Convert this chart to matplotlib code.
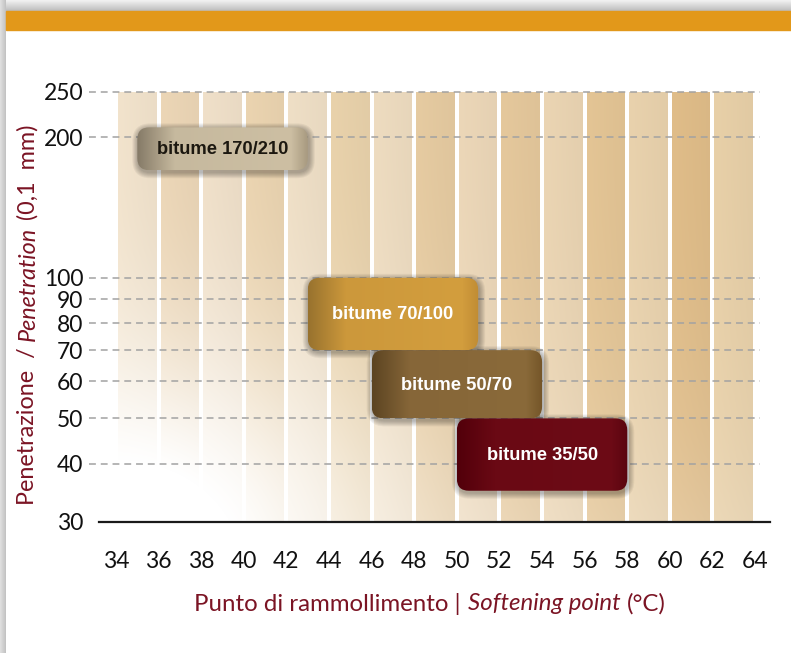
import numpy as np
import matplotlib
matplotlib.use("Agg")
import matplotlib.pyplot as plt
from matplotlib import font_manager as fm
from matplotlib.patches import FancyBboxPatch, Rectangle
from matplotlib.colors import LinearSegmentedColormap, to_rgb
from matplotlib.ticker import NullLocator

# softening point ticks (deg C) and penetration ticks (0.1 mm)
soft_ticks = [34, 36, 38, 40, 42, 44, 46, 48, 50, 52, 54, 56, 58, 60, 62, 64]
pen_ticks = [30, 40, 50, 60, 70, 80, 90, 100, 200, 250]

# bitumen grades: softening point range and penetration range
grades = ["bitume 170/210", "bitume 70/100", "bitume 50/70", "bitume 35/50"]
soft_min = [35, 43, 46, 50]
soft_max = [43, 51, 54, 58]
pen_min = [170, 70, 50, 35]
pen_max = [210, 100, 70, 50]

# styling
stripe_cols = ["#f2e3cc", "#ecd6b6", "#f0e0c9", "#ebd4b0", "#efdfc6", "#e9d2ab",
               "#eedcc0", "#e6cba1", "#ecd7b8", "#e5c89c", "#ebd5b3", "#e4c595",
               "#e9d2ad", "#e0bd89", "#e8d0a8"]
box_grad = [["#857a67", "#c6b99e", "#cdbfa3", "#a89a80"],
            ["#98722e", "#cc983b", "#d39e3e", "#c08c34"],
            ["#5c4422", "#866638", "#8a6a3a", "#745528"],
            ["#52000a", "#6a0914", "#6d0b16", "#5a0510"]]
box_text = ["#1c1810", "white", "white", "white"]
dark_red = "#7b1424"


def pick(cands):
    for c in cands:
        try:
            fm.findfont(fm.FontProperties(family=c), fallback_to_default=False)
            return c
        except ValueError:
            pass
    return "DejaVu Sans"


narrow = pick(["Liberation Sans Narrow", "Lato", "Open Sans"])
bold_font = pick(["Liberation Sans", "Arial"])

W, H = 791, 653
fig = plt.figure(figsize=(W / 100, H / 100), dpi=100)
fig.patch.set_facecolor("white")

# background layer in pixel coords (y down)
bg = fig.add_axes([0, 0, 1, 1])
bg.set_xlim(0, W)
bg.set_ylim(H, 0)
bg.axis("off")
bg.set_zorder(0)

# main chart axes
ax = fig.add_axes([89 / W, 1 - 522 / H, (770 - 89) / W, (522 - 92) / H])
ax.set_yscale("log")
ax.set_xlim(32.73, 64.7)
ax.set_ylim(30, 250)
ax.patch.set_alpha(0)
ax.set_zorder(1)
for s in ax.spines.values():
    s.set_visible(False)


def to_px(x, y):
    d = ax.transData.transform((x, y))
    return d[0], H - d[1]


# page shadow + orange header band
top_sh = np.linspace(0.95, 0.74, 20)[:, None, None] * np.ones((1, 2, 3))
bg.imshow(top_sh, extent=(0, W, 11, 0), aspect="auto", zorder=1)
left_sh = np.linspace(0.88, 0.76, 20)[None, :, None] * np.ones((2, 1, 3))
bg.imshow(left_sh, extent=(0, 6, H, 0), aspect="auto", zorder=1)
bg.add_patch(Rectangle((6, 11), W - 6, 19, color="#e2981a", zorder=2))

# striped background with white fade towards the bottom-left
left, top = to_px(soft_ticks[0], pen_ticks[-1])
right, bot = to_px(soft_ticks[-1], pen_ticks[0])
nx, ny = int(round(right - left)), int(round(bot - top))
xs = left + np.arange(nx) + 0.5
ys = top + np.arange(ny) + 0.5
img = np.ones((ny, nx, 3))
edges = [to_px(t, 30)[0] for t in soft_ticks]
for i, c in enumerate(stripe_cols):
    x0, x1 = edges[i] + 2, edges[i + 1] - 2
    m = (xs >= x0) & (xs < x1)
    t = (xs[m] - x0) / (x1 - x0)
    shade = 1 - 0.03 * t
    img[:, m, :] = np.array(to_rgb(c))[None, None, :] * shade[None, :, None]
u = (xs - left) / (right - left)
v = (bot - ys) / (bot - top)
U, V = np.meshgrid(u, v)
a = 0.95 * np.exp(-((U / 0.38) ** 2 + (V / 0.42) ** 2)) + 0.25 * (1 - V) ** 3 * (1 - 0.3 * U)
a = np.clip(a, 0, 1)[:, :, None]
img = img * (1 - a) + a
bg.imshow(img, extent=(left, left + nx, top + ny, top), aspect="auto",
          interpolation="nearest", zorder=3)

# dashed grid lines and axis line
for p in pen_ticks[1:]:
    ax.plot([32.73, 64.23], [p, p], color="#a2a2a2", lw=1.1,
            ls=(0, (4.5, 3.2)), clip_on=False, zorder=2)
ax.plot([33.2, 64.7], [30, 30], color="#1a1a1a", lw=1.6, clip_on=False, zorder=3)

ax.set_xticks(soft_ticks)
ax.set_xticklabels([str(t) for t in soft_ticks])
ax.set_yticks(pen_ticks)
ax.set_yticklabels([str(t) for t in pen_ticks])
ax.yaxis.set_minor_locator(NullLocator())
ax.tick_params(axis="x", length=0, pad=21, labelsize=16.5, labelcolor="#111111")
ax.tick_params(axis="y", length=0, pad=4, labelsize=16.5, labelcolor="#111111")
for lab in ax.get_xticklabels() + ax.get_yticklabels():
    lab.set_family(narrow)

# overlay for the grade boxes (pixel coords)
ov = fig.add_axes([0, 0, 1, 1])
ov.set_xlim(0, W)
ov.set_ylim(H, 0)
ov.axis("off")
ov.patch.set_alpha(0)
ov.set_zorder(2)

for i, name in enumerate(grades):
    x0, y0 = to_px(soft_min[i], pen_max[i])
    x1, y1 = to_px(soft_max[i], pen_min[i])
    w, h = x1 - x0, y1 - y0
    # soft shadow
    for k in range(1, 7):
        sh = FancyBboxPatch((x0 + 1, y0 + 2), w, h,
                            boxstyle=f"round,pad={k},rounding_size={12 + k}",
                            fc="black", ec="none", alpha=0.05, zorder=1)
        ov.add_patch(sh)
    box = FancyBboxPatch((x0, y0), w, h, boxstyle="round,pad=0,rounding_size=12",
                         fc="none", ec="none", zorder=3)
    ov.add_patch(box)
    cmap = LinearSegmentedColormap.from_list(
        "g%d" % i, list(zip([0, 0.22, 0.9, 1.0], box_grad[i])))
    grad = np.linspace(0, 1, 256)[None, :]
    im = ov.imshow(grad, cmap=cmap, extent=(x0, x1, y1, y0), aspect="auto", zorder=2)
    im.set_clip_path(box)
    ov.text((x0 + x1) / 2, (y0 + y1) / 2 + 1, name, ha="center", va="center",
            fontsize=13.2, fontweight="bold", color=box_text[i],
            family=bold_font, zorder=4)

# axis titles made of upright / italic pieces
renderer = fig.canvas.get_renderer()


def title_pieces(pieces, styles, cx, cy, length, vertical, gap=0.28):
    size = 17
    for _ in range(2):
        texts = [fig.text(0, 0, p, fontsize=size, style=st, color=dark_red,
                          family=narrow, rotation=90 if vertical else 0,
                          ha="left" if not vertical else "center",
                          va="bottom" if vertical else "center")
                 for p, st in zip(pieces, styles)]
        ext = [t.get_window_extent(renderer) for t in texts]
        sizes = [e.height if vertical else e.width for e in ext]
        g = gap * size * 100 / 72
        total = sum(sizes) + g * (len(pieces) - 1)
        if _ == 0:
            for t in texts:
                t.remove()
            size = size * length / total
    pos = (H - cy - total / 2) if vertical else (cx - total / 2)
    for t, s in zip(texts, sizes):
        if vertical:
            t.set_position((cx / W, pos / H))
        else:
            t.set_position((pos / W, 1 - cy / H))
        pos += s + g


title_pieces(["Punto di rammollimento |", "Softening point", "(°C)"],
             ["normal", "italic", "normal"], 430, 604, 471, False)
title_pieces(["Penetrazione  /", "Penetration", "(0,1  mm)"],
             ["normal", "italic", "normal"], 28, 315, 380, True)

fig.savefig("out.png", dpi=100)
